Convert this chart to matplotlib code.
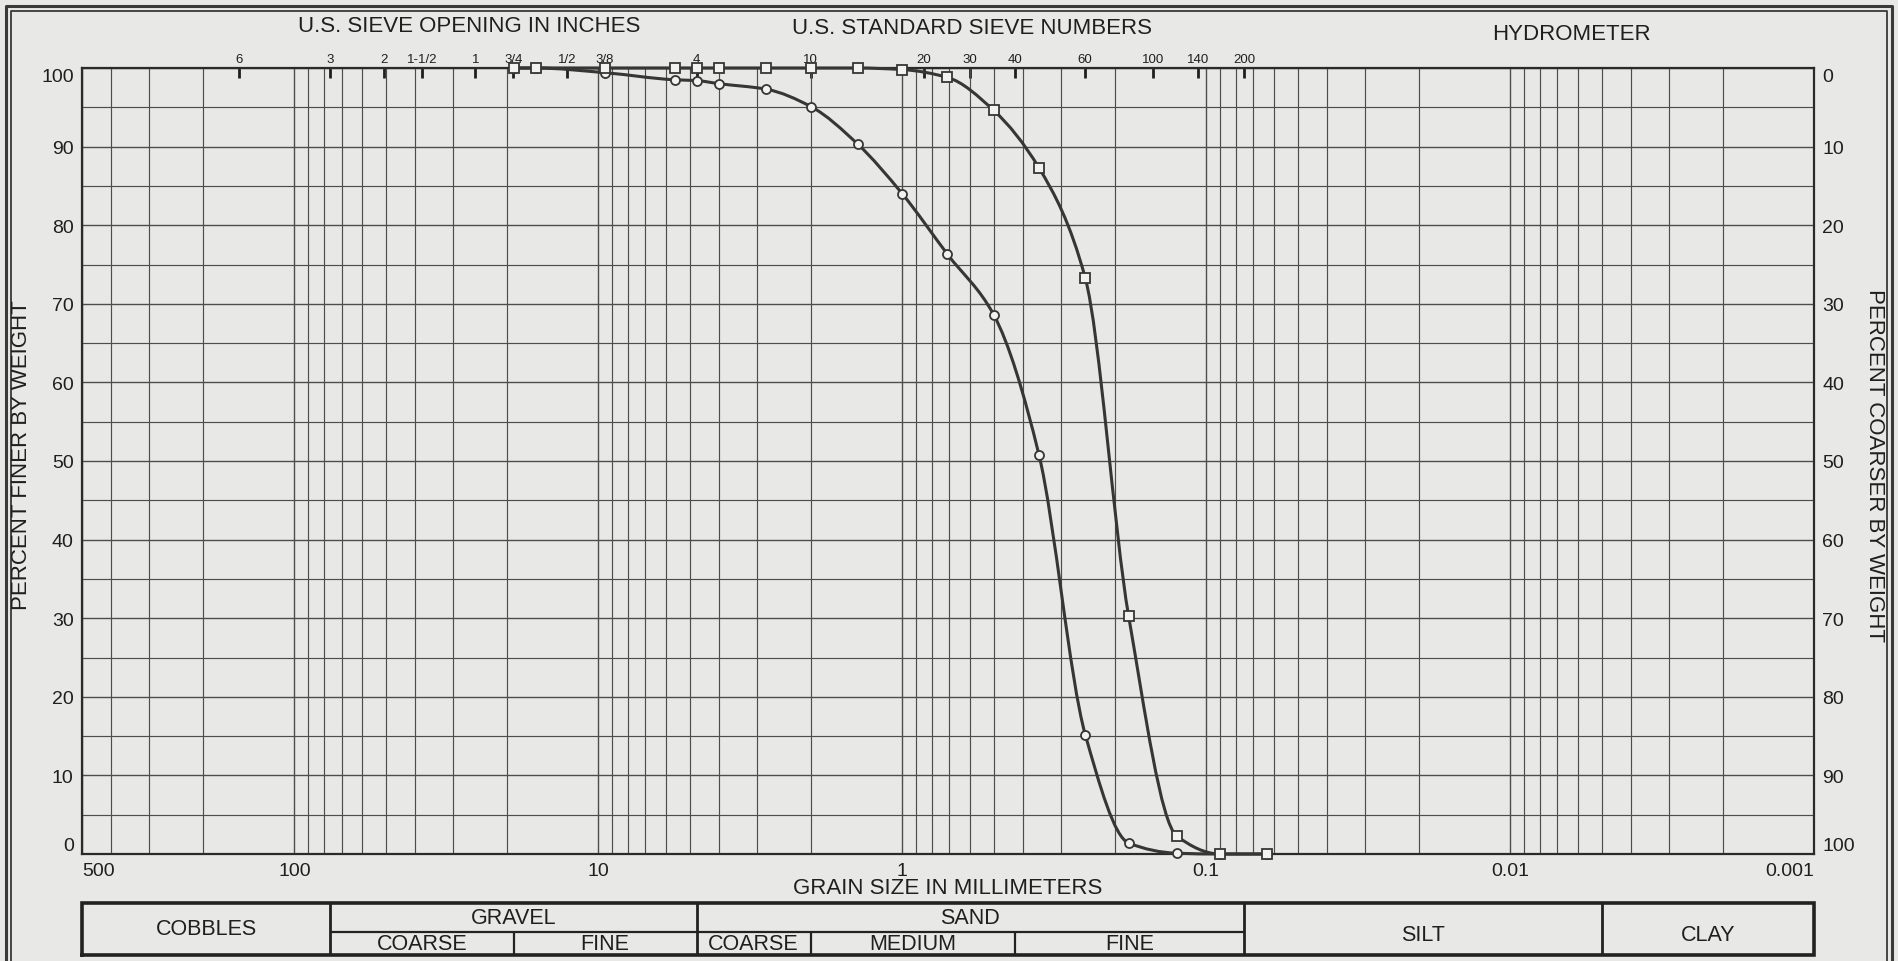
import matplotlib
matplotlib.use("Agg")
import matplotlib.pyplot as plt
from matplotlib.ticker import FixedLocator, LogLocator, NullFormatter
from matplotlib.lines import Line2D
from matplotlib.path import Path
from matplotlib.patches import PathPatch
import numpy as np

plt.rcParams['font.family'] = ['Liberation Sans', 'DejaVu Sans']

# ---------------- data ----------------
grain_size_mm = [19.0, 16.0, 9.5, 5.6, 4.75, 4.0, 2.8, 2.0, 1.4, 1.0, 0.71,
                 0.5, 0.355, 0.25, 0.18, 0.125, 0.09, 0.063]
finer_sample_1 = [100, 100, 99.4, 98.5, 98.4, 98.0, 97.3, 95.1, 90.3, 84.0, 76.3,
                  68.6, 50.8, 15.2, 1.4, 0.1, 0.0, 0.0]
finer_sample_2 = [100, 100, 100, 100, 100, 100, 100, 100, 100, 99.8, 98.8,
                  94.6, 87.3, 73.3, 30.3, 2.3, 0.0, 0.0]

x_tick_values = [500, 100, 10, 1, 0.1, 0.01, 0.001]
x_tick_labels = ['500', '100', '10', '1', '0.1', '0.01', '0.001']
y_tick_values = [0, 10, 20, 30, 40, 50, 60, 70, 80, 90, 100]

sieve_inch_labels = ['6', '3', '2', '1-1/2', '1', '3/4', '1/2', '3/8']
sieve_inch_mm = [152.4, 76.2, 50.8, 38.1, 25.4, 19.05, 12.7, 9.525]
sieve_number_labels = ['4', '10', '20', '30', '40', '60', '100', '140', '200']
sieve_number_mm = [4.75, 2.0, 0.85, 0.6, 0.425, 0.25, 0.15, 0.106, 0.075]

major_classes = ['COBBLES', 'GRAVEL', 'SAND', 'SILT', 'CLAY']
major_bounds_mm = [500, 76.2, 4.75, 0.075, 0.005, 0.001]
sub_classes = ['COARSE', 'FINE', 'COARSE', 'MEDIUM', 'FINE']
sub_bounds_mm = [76.2, 19.0, 4.75, 2.0, 0.425, 0.075]

# ---------------- figure ----------------
W, H = 1899, 962
BG = '#e8e8e6'
INK = '#1f1f1f'
GRID = '#4d4d4d'
CURVE = '#363636'
fig = plt.figure(figsize=(W / 100, H / 100), dpi=100, facecolor=BG)


def frac(x0, y0, x1, y1):
    return [x0 / W, 1 - y1 / H, (x1 - x0) / W, (y1 - y0) / H]


def smooth_curve_path(xs, ys):
    """Monotone cubic Bezier path through the data points (drawn in log-x space)."""
    t = -np.log10(np.asarray(xs, float))
    y = np.asarray(ys, float)
    h = np.diff(t)
    d = np.diff(y) / h
    m = np.zeros_like(y)
    m[0], m[-1] = d[0], d[-1]
    for k in range(1, len(y) - 1):
        if d[k - 1] * d[k] <= 0:
            m[k] = 0.0
        else:
            w1 = 2 * h[k] + h[k - 1]
            w2 = h[k] + 2 * h[k - 1]
            m[k] = (w1 + w2) / (w1 / d[k - 1] + w2 / d[k])
    verts = [(t[0], y[0])]
    codes = [Path.MOVETO]
    for k in range(len(y) - 1):
        verts += [(t[k] + h[k] / 3, y[k] + m[k] * h[k] / 3),
                  (t[k + 1] - h[k] / 3, y[k + 1] - m[k + 1] * h[k] / 3),
                  (t[k + 1], y[k + 1])]
        codes += [Path.CURVE4] * 3
    verts = [(10 ** (-a), b) for a, b in verts]
    return Path(verts, codes)


ax = fig.add_axes(frac(82, 69, 1814, 855))
ax.set_facecolor(BG)
ax.set_xscale('log')
ax.set_xlim(500, 0.001)
ax.set_ylim(0, 100)

ax.xaxis.set_major_locator(FixedLocator(x_tick_values))
ax.xaxis.set_minor_locator(LogLocator(base=10, subs=range(2, 10), numticks=50))
ax.xaxis.set_minor_formatter(NullFormatter())
ax.set_xticks(x_tick_values, x_tick_labels)
ax.yaxis.set_major_locator(FixedLocator(y_tick_values))
ax.yaxis.set_minor_locator(FixedLocator([v + 5 for v in y_tick_values[:-1]]))
ax.set_yticks(y_tick_values, [str(v) for v in y_tick_values])

ax.grid(which='major', color=GRID, lw=1.0)
ax.grid(which='minor', color=GRID, lw=0.85)
ax.set_axisbelow(True)
ax.tick_params(which='both', length=0)
ax.tick_params(axis='x', labelsize=14, pad=6, colors=INK)
ax.tick_params(axis='y', labelsize=14, pad=6, colors=INK)
xl = ax.get_xticklabels()
xl[0].set_ha('left')
xl[-1].set_ha('right')
yl = ax.get_yticklabels()
yl[0].set_va('bottom')
yl[-1].set_va('top')
for s in ax.spines.values():
    s.set_color('#2a2a2a')
    s.set_linewidth(1.6)

# right axis : percent coarser
sec = ax.secondary_yaxis('right', functions=(lambda v: 100 - v, lambda v: 100 - v))
sec.set_yticks(y_tick_values, [str(v) for v in y_tick_values])
sec.tick_params(length=0, labelsize=14, pad=6, colors=INK)
for tl in sec.get_yticklabels():
    if tl.get_text() == '0':
        tl.set_va('top')
    elif tl.get_text() == '100':
        tl.set_va('bottom')
sec.spines['right'].set_visible(False)

# top axis : sieve sizes
top = ax.secondary_xaxis('top')
top.set_xticks(sieve_inch_mm + sieve_number_mm, sieve_inch_labels + sieve_number_labels)
top.xaxis.set_minor_locator(FixedLocator([]))
top.tick_params(which='major', direction='in', length=7, width=2, labelsize=9.5,
                pad=2, colors=INK)
top.spines['top'].set_visible(False)

# curves (smooth line through the points + markers)
for ys, mk, ms in ((finer_sample_1, 'o', 6.5), (finer_sample_2, 's', 7.5)):
    ax.add_patch(PathPatch(smooth_curve_path(grain_size_mm, ys), fill=False,
                           edgecolor=CURVE, lw=2.2, clip_on=False, zorder=4))
    ax.plot(grain_size_mm, ys, linestyle='none', marker=mk, ms=ms, mfc='#f2f2f0',
            mec=CURVE, mew=1.3, clip_on=False, zorder=5)

# headers and axis titles
fig.text(469 / W, 1 - 27 / H, 'U.S. SIEVE OPENING IN INCHES', ha='center', va='center',
         fontsize=16, color=INK)
fig.text(972 / W, 1 - 29 / H, 'U.S. STANDARD SIEVE NUMBERS', ha='center', va='center',
         fontsize=16, color=INK)
fig.text(1571 / W, 1 - 34 / H, 'HYDROMETER', ha='center', va='center',
         fontsize=16, color=INK)
fig.text(948 / W, 1 - 888 / H, 'GRAIN SIZE IN MILLIMETERS', ha='center', va='center',
         fontsize=16, color=INK)
fig.text(22 / W, 1 - 455 / H, 'PERCENT FINER BY WEIGHT', ha='center', va='center',
         rotation=90, fontsize=16, color=INK)
fig.text(1875 / W, 1 - 466 / H, 'PERCENT COARSER BY WEIGHT', ha='center', va='center',
         rotation=-90, fontsize=16, color=INK)

# classification table
tax = fig.add_axes(frac(82, 904, 1814, 956))
tax.set_xscale('log')
tax.set_xlim(500, 0.001)
tax.set_ylim(0, 1)
tax.axis('off')
TL = '#222222'
mid = 0.45
tax.plot([500, 0.001, 0.001, 500, 500], [0, 0, 1, 1, 0], color=TL, lw=2.6,
         clip_on=False, solid_joinstyle='miter')
tax.vlines(major_bounds_mm[1:-1], 0, 1, color=TL, lw=2.0)
tax.hlines(mid, major_bounds_mm[1], major_bounds_mm[3], color=TL, lw=1.6)
tax.vlines([sub_bounds_mm[1], sub_bounds_mm[3], sub_bounds_mm[4]], 0, mid, color=TL, lw=1.6)
for i, name in enumerate(major_classes):
    a, b = major_bounds_mm[i], major_bounds_mm[i + 1]
    if name in ('GRAVEL', 'SAND'):
        yy = (1 + mid) / 2
    elif name == 'COBBLES':
        yy = 0.5
    else:
        yy = 0.4
    tax.text(np.sqrt(a * b), yy, name, ha='center', va='center', fontsize=15.5, color=INK)
for i, name in enumerate(sub_classes):
    a, b = sub_bounds_mm[i], sub_bounds_mm[i + 1]
    tax.text(np.sqrt(a * b), mid / 2, name, ha='center', va='center', fontsize=15.5, color=INK)

# outer double frame
for off, lw in ((6.5, 2.2), (11.5, 1.3)):
    xs = [off / W, off / W, 1 - off / W, 1 - off / W]
    ys = [0, 1 - off / H, 1 - off / H, 0]
    fig.add_artist(Line2D(xs, ys, color='#3a3a3a', lw=lw, transform=fig.transFigure))

fig.savefig('out.png', dpi=100, facecolor=BG)
